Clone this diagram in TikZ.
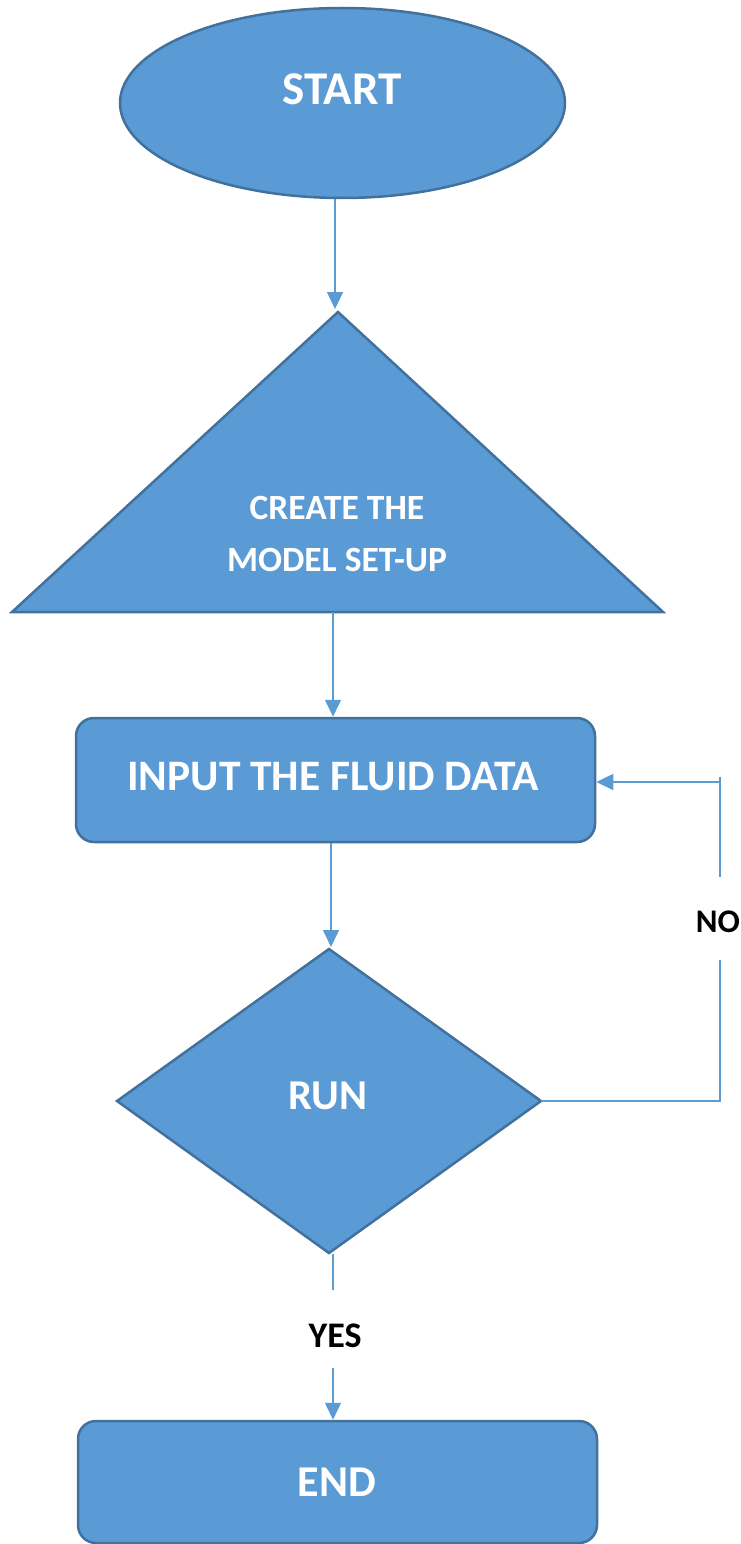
\documentclass[tikz,border=0pt]{standalone}
\usepackage{fontspec}
\setmainfont{Carlito}
\usetikzlibrary{shapes.geometric,arrows.meta}
\definecolor{boxfill}{HTML}{5B9BD5}
\definecolor{boxline}{HTML}{41719C}
\tikzset{
  shapebox/.style={fill=boxfill,draw=boxline,line width=2.5pt},
  wtext/.style={text=white,font=\bfseries},
  conn/.style={draw=boxfill,line width=1.5pt},
  arr/.style={conn,-{Triangle[length=17pt,width=16pt]}},
  lbl/.style={text=black,font=\fontsize{33}{40}\selectfont\bfseries,inner sep=0pt}
}
\begin{document}
\begin{tikzpicture}[x=1pt,y=-1pt]
\useasboundingbox (0,0) rectangle (741,1544);
% START
\node[shapebox,ellipse,minimum width=445pt,minimum height=190pt,inner sep=0pt] (start) at (342.5,103) {};
\node[wtext,font=\fontsize{47}{52}\selectfont\bfseries] (starttxt) at (342,89) {START};
% triangle
\coordinate (tapex) at (338,312);
\coordinate (tbl) at (12,612);
\coordinate (tbr) at (663,612);
\coordinate (tbase) at (333,612);
\draw[shapebox,line join=miter] (tapex) -- (tbr) -- (tbl) -- cycle;
\node[wtext,font=\fontsize{35.5}{52}\selectfont\bfseries,align=center] (create) at (337,534) {CREATE THE\\MODEL SET-UP};
% input
\node[shapebox,rounded corners=18pt,minimum width=519pt,minimum height=124pt,inner sep=0pt] (input) at (335.5,780) {};
\node[wtext,font=\fontsize{43.5}{50}\selectfont\bfseries] (inputtxt) at (333,777) {INPUT THE FLUID DATA};
% diamond
\coordinate (dtop) at (329,949);
\coordinate (dright) at (541,1101);
\coordinate (dbot) at (329,1253);
\coordinate (dleft) at (117,1101);
\draw[shapebox,line join=miter] (dtop) -- (dright) -- (dbot) -- (dleft) -- cycle;
\node[wtext,font=\fontsize{42.5}{48}\selectfont\bfseries] (run) at (328,1096) {RUN};
% end
\node[shapebox,rounded corners=18pt,minimum width=519pt,minimum height=122pt,inner sep=0pt] (endbox) at (337.5,1482) {};
\node[wtext,font=\fontsize{44}{50}\selectfont\bfseries] (endtxt) at (337,1482) {END};
% connectors
\coordinate (s1) at (335,199);
\coordinate (s2) at (335,309);
\draw[arr] (s1) -- (s2);
\draw[arr] (tbase) -- (input.north -| tbase);
\coordinate (i1) at (331,843);
\coordinate (i2) at (331,947);
\draw[arr] (i1) -- (i2);
% NO branch
\node[lbl] (no) at (718,922) {NO};
\coordinate (na) at (720,960);
\coordinate (nb) at (720,877);
\coordinate (nc) at (720,777);
\coordinate (nd) at (720,782);
\draw[conn] (dright) -| (na);
\draw[conn] (nb) -- (nc);
\draw[arr] (nd) -- (input.east |- nd);
% YES branch
\node[lbl,font=\fontsize{36}{40}\selectfont\bfseries] (yes) at (335,1336) {YES};
\coordinate (ya) at (333,1290);
\coordinate (yb) at (333,1368);
\coordinate (yc) at (333,1254);
\draw[conn] (yc) -- (ya);
\draw[arr] (yb) -- (endbox.north -| yb);
\end{tikzpicture}
\end{document}
